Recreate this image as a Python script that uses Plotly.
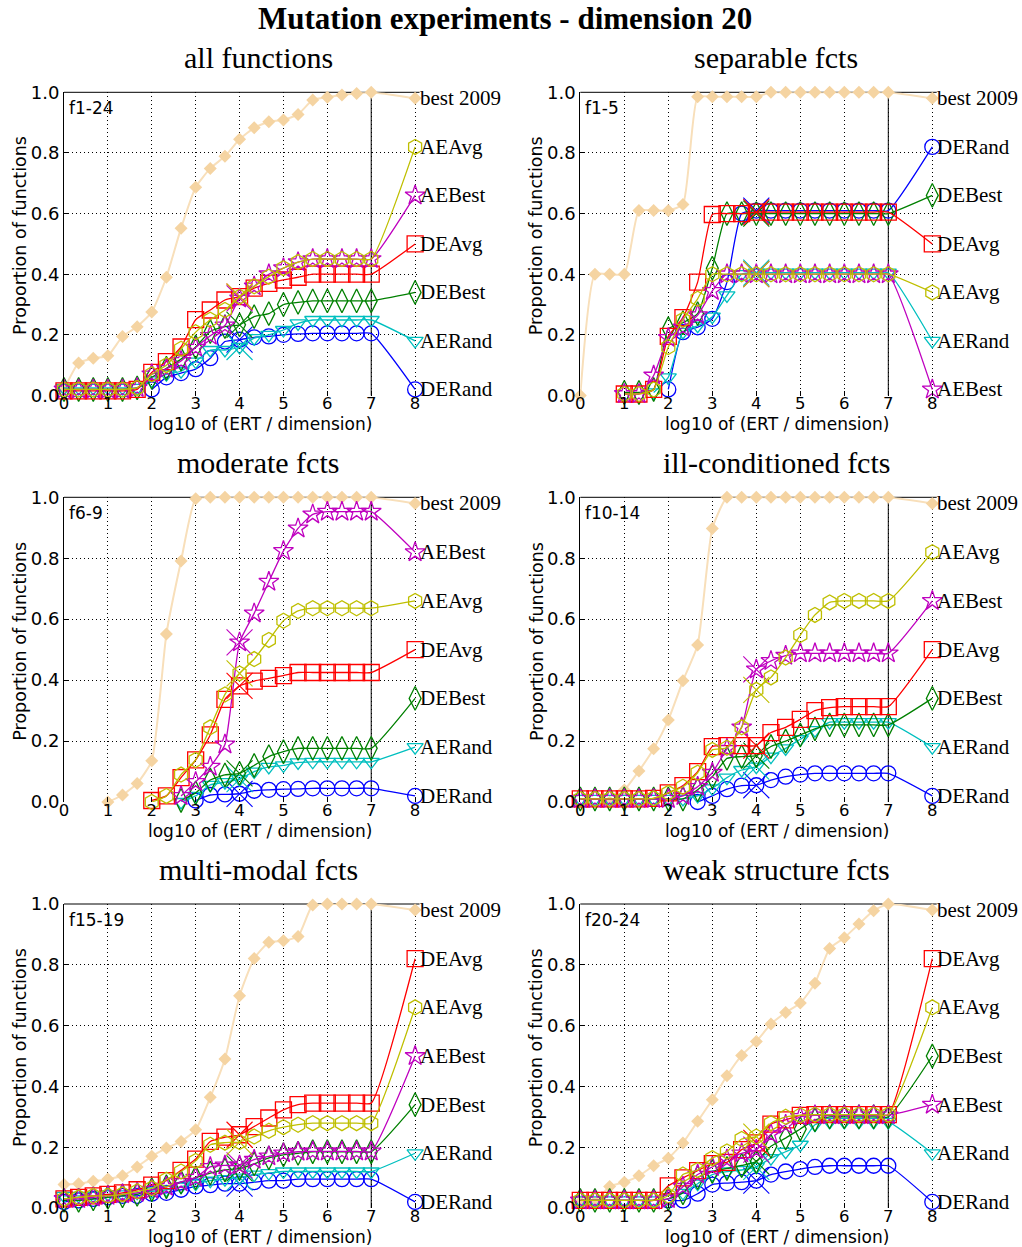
import plotly.graph_objects as go

# ECDF sample positions: log10(ERT / dimension), one marker every third of a decade
LOG_ERT = [0, 0.333, 0.667, 1, 1.333, 1.667, 2, 2.333, 2.667, 3, 3.333, 3.667,
           4, 4.333, 4.667, 5, 5.333, 5.667, 6, 6.333, 6.667, 7]
BUDGET_IDX = 12          # sample at log10(maxevals / dim) = 4, marked with a cross
LABEL_X = 8              # right-hand column of algorithm labels
LABEL_SLOTS = [0.98, 0.82, 0.66, 0.50, 0.34, 0.18, 0.02]

# ---------------- f1-24 : all functions ----------------
ALL_BEST = [0.02, 0.107, 0.123, 0.131, 0.195, 0.227, 0.275, 0.39, 0.552, 0.687, 0.749, 0.789,
            0.845, 0.883, 0.903, 0.909, 0.927, 0.975, 0.984, 0.991, 0.996, 1.0]
ALL_AEAVG = [0.02, 0.02, 0.02, 0.02, 0.02, 0.025, 0.07, 0.10, 0.154, 0.209, 0.25, 0.282,
             0.326, 0.36, 0.392, 0.42, 0.44, 0.45, 0.45, 0.45, 0.45, 0.45]
ALL_AEBEST = [0.02, 0.02, 0.02, 0.02, 0.02, 0.025, 0.07, 0.088, 0.114, 0.158, 0.197, 0.231,
              0.32, 0.36, 0.40, 0.42, 0.44, 0.45, 0.45, 0.45, 0.45, 0.45]
ALL_DEAVG = [0.015, 0.015, 0.015, 0.015, 0.015, 0.02, 0.076, 0.112, 0.16, 0.25, 0.282, 0.315,
             0.326, 0.354, 0.37, 0.381, 0.39, 0.40, 0.40, 0.40, 0.40, 0.40]
ALL_DEBEST = [0.02, 0.02, 0.02, 0.02, 0.02, 0.025, 0.06, 0.09, 0.12, 0.16, 0.211, 0.227,
              0.233, 0.26, 0.27, 0.30, 0.307, 0.312, 0.312, 0.312, 0.312, 0.312]
ALL_AERAND = [0.025, 0.025, 0.025, 0.025, 0.025, 0.025, 0.05, 0.07, 0.08, 0.112, 0.15, 0.15,
              0.16, 0.189, 0.20, 0.216, 0.238, 0.249, 0.249, 0.249, 0.249, 0.249]
ALL_DERAND = [None, None, None, None, None, None, 0.02, 0.06, 0.074, 0.087, 0.123, 0.178,
              0.184, 0.192, 0.195, 0.20, 0.203, 0.205, 0.205, 0.205, 0.205, 0.205]
ALL_ORDER = ["AEAvg", "AEBest", "DEAvg", "DEBest", "AERand", "DERand"]

# ---------------- f1-5 : separable ----------------
SEP_BEST = [0.0, 0.40, 0.40, 0.40, 0.61, 0.61, 0.61, 0.63, 0.985, 0.985, 0.985, 0.985,
            0.985, 1.0, 1.0, 1.0, 1.0, 1.0, 1.0, 1.0, 1.0, 1.0]
SEP_AEAVG = [None, None, None, 0.005, 0.005, 0.02, 0.16, 0.25, 0.319, 0.40, 0.40, 0.40,
             0.40, 0.40, 0.40, 0.40, 0.40, 0.40, 0.40, 0.40, 0.40, 0.40]
SEP_AEBEST = [None, None, None, 0.005, 0.005, 0.066, 0.19, 0.225, 0.265, 0.345, 0.40, 0.40,
              0.40, 0.40, 0.40, 0.40, 0.40, 0.40, 0.40, 0.40, 0.40, 0.40]
SEP_DEAVG = [None, None, None, 0.005, 0.005, 0.02, 0.195, 0.257, 0.374, 0.597, 0.60, 0.60,
             0.605, 0.605, 0.605, 0.605, 0.605, 0.605, 0.605, 0.605, 0.605, 0.605]
SEP_DEBEST = [None, None, None, 0.01, 0.01, 0.02, 0.22, 0.24, 0.27, 0.42, 0.60, 0.60,
              0.60, 0.60, 0.60, 0.60, 0.60, 0.60, 0.60, 0.60, 0.60, 0.60]
SEP_AERAND = [None, None, None, None, None, 0.01, 0.06, 0.21, 0.23, 0.26, 0.33, 0.40,
              0.405, 0.405, 0.405, 0.405, 0.405, 0.405, 0.405, 0.405, 0.405, 0.405]
SEP_DERAND = [None, None, None, None, None, None, 0.02, 0.209, 0.225, 0.253, 0.374, 0.60,
              0.61, 0.61, 0.61, 0.61, 0.61, 0.61, 0.61, 0.61, 0.61, 0.61]
SEP_ORDER = ["DERand", "DEBest", "DEAvg", "AEAvg", "AERand", "AEBest"]

# ---------------- f6-9 : moderate ----------------
MOD_BEST = [None, None, None, 0.0, 0.023, 0.061, 0.135, 0.551, 0.791, 0.995, 1.0, 1.0,
            1.0, 1.0, 1.0, 1.0, 1.0, 1.0, 1.0, 1.0, 1.0, 1.0]
MOD_AEAVG = [None, None, None, None, None, None, 0.0, 0.02, 0.09, 0.138, 0.245, 0.353,
             0.422, 0.469, 0.532, 0.595, 0.627, 0.636, 0.636, 0.636, 0.636, 0.636]
MOD_AEBEST = [None, None, None, None, None, None, None, None, 0.02, 0.066, 0.116, 0.189,
              0.524, 0.619, 0.723, 0.824, 0.898, 0.944, 0.953, 0.953, 0.953, 0.953]
MOD_DEAVG = [None, None, None, None, None, None, 0.005, 0.02, 0.08, 0.138, 0.22, 0.337,
             0.381, 0.397, 0.406, 0.415, 0.425, 0.425, 0.425, 0.425, 0.425, 0.425]
MOD_DEBEST = [None, None, None, None, None, None, None, None, 0.005, 0.03, 0.072, 0.089,
              0.094, 0.12, 0.149, 0.165, 0.176, 0.176, 0.176, 0.176, 0.176, 0.176]
MOD_AERAND = [None, None, None, None, None, None, None, None, 0.0, 0.02, 0.056, 0.065,
              0.075, 0.10, 0.115, 0.12, 0.13, 0.132, 0.132, 0.132, 0.132, 0.132]
MOD_DERAND = [None, None, None, None, None, None, None, None, None, 0.005, 0.023, 0.025,
              0.027, 0.037, 0.04, 0.042, 0.043, 0.045, 0.045, 0.045, 0.045, 0.045]
MOD_ORDER = ["AEBest", "AEAvg", "DEAvg", "DEBest", "AERand", "DERand"]

# ---------------- f10-14 : ill-conditioned ----------------
ILL_BEST = [None, None, 0.0, 0.039, 0.102, 0.175, 0.269, 0.398, 0.515, 0.898, 1.0, 1.0,
            1.0, 1.0, 1.0, 1.0, 1.0, 1.0, 1.0, 1.0, 1.0, 1.0]
ILL_AEAVG = [0.01, 0.01, 0.01, 0.01, 0.01, 0.012, 0.03, 0.05, 0.096, 0.171, 0.178, 0.245,
             0.368, 0.409, 0.474, 0.548, 0.614, 0.655, 0.66, 0.66, 0.66, 0.66]
ILL_AEBEST = [0.01, 0.01, 0.01, 0.01, 0.01, 0.01, 0.01, 0.02, 0.05, 0.096, 0.175, 0.245,
              0.435, 0.463, 0.48, 0.488, 0.488, 0.488, 0.488, 0.488, 0.488, 0.488]
ILL_DEAVG = [0.01, 0.01, 0.01, 0.01, 0.01, 0.012, 0.03, 0.054, 0.10, 0.182, 0.185, 0.185,
             0.185, 0.228, 0.245, 0.271, 0.30, 0.31, 0.313, 0.313, 0.313, 0.313]
ILL_DEBEST = [0.01, 0.01, 0.01, 0.01, 0.01, 0.01, 0.01, 0.01, 0.04, 0.083, 0.143, 0.149,
              0.152, 0.182, 0.20, 0.22, 0.24, 0.253, 0.253, 0.253, 0.253, 0.253]
ILL_AERAND = [0.01, 0.01, 0.01, 0.01, 0.01, 0.01, 0.01, 0.01, 0.02, 0.045, 0.08, 0.105,
              0.116, 0.149, 0.176, 0.206, 0.236, 0.262, 0.262, 0.262, 0.262, 0.262]
ILL_DERAND = [None, None, None, None, None, None, None, None, 0.0, 0.02, 0.042, 0.054,
              0.055, 0.072, 0.083, 0.09, 0.094, 0.094, 0.094, 0.094, 0.094, 0.094]
ILL_ORDER = ["AEAvg", "AEBest", "DEAvg", "DEBest", "AERand", "DERand"]

# ---------------- f15-19 : multi-modal ----------------
MUL_BEST = [0.077, 0.08, 0.088, 0.095, 0.106, 0.135, 0.17, 0.197, 0.219, 0.257, 0.364, 0.49,
            0.698, 0.821, 0.874, 0.879, 0.893, 0.997, 1.0, 1.0, 1.0, 1.0]
MUL_AEAVG = [0.03, 0.035, 0.04, 0.04, 0.045, 0.055, 0.065, 0.093, 0.12, 0.155, 0.208, 0.215,
             0.217, 0.235, 0.254, 0.266, 0.274, 0.279, 0.279, 0.279, 0.279, 0.279]
MUL_AEBEST = [0.03, 0.03, 0.035, 0.04, 0.045, 0.05, 0.06, 0.07, 0.085, 0.10, 0.135, 0.14,
              0.14, 0.159, 0.17, 0.18, 0.185, 0.186, 0.186, 0.186, 0.186, 0.186]
MUL_DEAVG = [0.03, 0.035, 0.04, 0.045, 0.05, 0.06, 0.075, 0.09, 0.124, 0.161, 0.219, 0.233,
             0.241, 0.268, 0.296, 0.323, 0.34, 0.345, 0.345, 0.345, 0.345, 0.345]
MUL_DEBEST = [0.025, 0.025, 0.03, 0.035, 0.04, 0.045, 0.06, 0.07, 0.085, 0.10, 0.115, 0.125,
              0.13, 0.145, 0.165, 0.175, 0.18, 0.185, 0.185, 0.185, 0.185, 0.185]
MUL_AERAND = [0.04, 0.04, 0.04, 0.045, 0.045, 0.05, 0.055, 0.06, 0.07, 0.08, 0.09, 0.095,
              0.10, 0.11, 0.115, 0.12, 0.12, 0.12, 0.12, 0.12, 0.12, 0.12]
MUL_DERAND = [0.02, 0.025, 0.03, 0.035, 0.04, 0.04, 0.047, 0.05, 0.06, 0.071, 0.075, 0.08,
              0.08, 0.085, 0.09, 0.09, 0.095, 0.095, 0.095, 0.095, 0.095, 0.095]
MUL_ORDER = ["DEAvg", "AEAvg", "AEBest", "DEBest", "AERand", "DERand"]

# ---------------- f20-24 : weak structure ----------------
WEAK_BEST = [0.02, 0.02, 0.071, 0.085, 0.106, 0.139, 0.164, 0.214, 0.285, 0.356, 0.435, 0.502,
             0.548, 0.605, 0.643, 0.674, 0.739, 0.854, 0.889, 0.934, 0.978, 1.0]
WEAK_AEAVG = [0.025, 0.025, 0.025, 0.025, 0.025, 0.025, 0.04, 0.11, 0.125, 0.164, 0.186, 0.227,
              0.235, 0.279, 0.30, 0.305, 0.307, 0.307, 0.307, 0.307, 0.307, 0.307]
WEAK_AEBEST = [0.025, 0.025, 0.025, 0.025, 0.025, 0.025, 0.03, 0.07, 0.11, 0.135, 0.16, 0.18,
               0.192, 0.243, 0.274, 0.30, 0.305, 0.305, 0.305, 0.305, 0.305, 0.305]
WEAK_DEAVG = [0.025, 0.025, 0.025, 0.025, 0.025, 0.025, 0.073, 0.099, 0.123, 0.146, 0.15, 0.192,
              0.214, 0.276, 0.29, 0.305, 0.307, 0.307, 0.307, 0.307, 0.307, 0.307]
WEAK_DEBEST = [0.025, 0.025, 0.025, 0.025, 0.025, 0.025, 0.03, 0.05, 0.10, 0.12, 0.13, 0.14,
               0.153, 0.203, 0.23, 0.26, 0.29, 0.30, 0.30, 0.30, 0.30, 0.30]
WEAK_AERAND = [0.025, 0.025, 0.025, 0.025, 0.025, 0.025, 0.03, 0.05, 0.08, 0.11, 0.12, 0.125,
               0.135, 0.164, 0.185, 0.208, 0.274, 0.283, 0.283, 0.283, 0.283, 0.283]
WEAK_DERAND = [None, None, None, None, None, None, 0.025, 0.025, 0.047, 0.077, 0.082, 0.085,
               0.09, 0.11, 0.12, 0.128, 0.135, 0.139, 0.139, 0.139, 0.139, 0.139]
WEAK_ORDER = ["DEAvg", "AEAvg", "DEBest", "AEBest", "AERand", "DERand"]

PANELS = [
    dict(title="all functions", tag="f1-24", best=ALL_BEST, order=ALL_ORDER,
         algs={"AEAvg": ALL_AEAVG, "AEBest": ALL_AEBEST, "DEAvg": ALL_DEAVG,
               "DEBest": ALL_DEBEST, "AERand": ALL_AERAND, "DERand": ALL_DERAND}),
    dict(title="separable fcts", tag="f1-5", best=SEP_BEST, order=SEP_ORDER,
         algs={"AEAvg": SEP_AEAVG, "AEBest": SEP_AEBEST, "DEAvg": SEP_DEAVG,
               "DEBest": SEP_DEBEST, "AERand": SEP_AERAND, "DERand": SEP_DERAND}),
    dict(title="moderate fcts", tag="f6-9", best=MOD_BEST, order=MOD_ORDER,
         algs={"AEAvg": MOD_AEAVG, "AEBest": MOD_AEBEST, "DEAvg": MOD_DEAVG,
               "DEBest": MOD_DEBEST, "AERand": MOD_AERAND, "DERand": MOD_DERAND}),
    dict(title="ill-conditioned fcts", tag="f10-14", best=ILL_BEST, order=ILL_ORDER,
         algs={"AEAvg": ILL_AEAVG, "AEBest": ILL_AEBEST, "DEAvg": ILL_DEAVG,
               "DEBest": ILL_DEBEST, "AERand": ILL_AERAND, "DERand": ILL_DERAND}),
    dict(title="multi-modal fcts", tag="f15-19", best=MUL_BEST, order=MUL_ORDER,
         algs={"AEAvg": MUL_AEAVG, "AEBest": MUL_AEBEST, "DEAvg": MUL_DEAVG,
               "DEBest": MUL_DEBEST, "AERand": MUL_AERAND, "DERand": MUL_DERAND}),
    dict(title="weak structure fcts", tag="f20-24", best=WEAK_BEST, order=WEAK_ORDER,
         algs={"AEAvg": WEAK_AEAVG, "AEBest": WEAK_AEBEST, "DEAvg": WEAK_DEAVG,
               "DEBest": WEAK_DEBEST, "AERand": WEAK_AERAND, "DERand": WEAK_DERAND}),
]

# colour, marker symbol, marker size
STYLE = {
    "AEAvg": ("#BFBF00", "hexagon-open", 15),
    "AEBest": ("#BF00BF", "star-open", 15),
    "DEAvg": ("#FF0000", "square-open", 16),
    "DEBest": ("#008000", "diamond-tall-open", 17),
    "AERand": ("#00BFBF", "triangle-down-open", 14),
    "DERand": ("#0000FF", "circle-open", 15),
}
DRAW_ORDER = ["DERand", "AERand", "DEBest", "DEAvg", "AEBest", "AEAvg"]
BEST_LINE = "#F8DFBA"
BEST_MARK = "#F5D4A2"

W, H = 1022, 1247
SERIF = "Liberation Serif, Times New Roman, serif"
SANS = "DejaVu Sans, sans-serif"

# pixel frames of the six axes: (left, right, top, bottom)
COLS = [(64, 419.5), (580.3, 936.7)]
ROWS = [(92.3, 395.5), (497.3, 802.0), (904.0, 1208.0)]


def px(x):
    return x / W


def py(y):
    return 1 - y / H


fig = go.Figure()
annotations = []
shapes = []

for i, panel in enumerate(PANELS):
    r, c = divmod(i, 2)
    n = i + 1
    suffix = "" if n == 1 else str(n)
    xa, ya = f"x{suffix}", f"y{suffix}"
    left, right = COLS[c]
    top, bottom = ROWS[r]

    # best 2009 reference curve
    bx = [x for x, v in zip(LOG_ERT, panel["best"]) if v is not None] + [LABEL_X]
    by = [v for v in panel["best"] if v is not None] + [LABEL_SLOTS[0]]
    fig.add_trace(go.Scatter(
        x=bx, y=by, xaxis=xa, yaxis=ya, mode="lines+markers",
        line=dict(color=BEST_LINE, width=2, shape="spline", smoothing=0.5),
        marker=dict(symbol="diamond", size=10, color=BEST_MARK),
        cliponaxis=False, hoverinfo="skip", showlegend=False))
    annotations.append(dict(
        x=LABEL_X, y=LABEL_SLOTS[0], xref=xa, yref=ya, text="best 2009",
        showarrow=False, xanchor="left", yanchor="middle", xshift=3,
        font=dict(family=SERIF, size=21, color="black")))

    slot_of = {name: LABEL_SLOTS[k + 1] for k, name in enumerate(panel["order"])}

    for name in DRAW_ORDER:
        color, symbol, size = STYLE[name]
        vals = panel["algs"][name]
        xs = [x for x, v in zip(LOG_ERT, vals) if v is not None] + [LABEL_X]
        ys = [v for v in vals if v is not None] + [slot_of[name]]
        fig.add_trace(go.Scatter(
            x=xs, y=ys, xaxis=xa, yaxis=ya, mode="lines+markers",
            line=dict(color=color, width=1.3, shape="spline", smoothing=0.5),
            marker=dict(symbol=symbol, size=size, color=color,
                        line=dict(color=color, width=1.3)),
            cliponaxis=False, hoverinfo="skip", showlegend=False))
        # budget cross
        fig.add_trace(go.Scatter(
            x=[LOG_ERT[BUDGET_IDX]], y=[vals[BUDGET_IDX]], xaxis=xa, yaxis=ya,
            mode="markers",
            marker=dict(symbol="x-thin-open", size=26, color=color,
                        line=dict(color=color, width=1.1)),
            cliponaxis=False, hoverinfo="skip", showlegend=False))
        annotations.append(dict(
            x=LABEL_X, y=slot_of[name], xref=xa, yref=ya, text=name,
            showarrow=False, xanchor="left", yanchor="middle", xshift=3,
            font=dict(family=SERIF, size=21, color="black")))

    axis_common = dict(
        showgrid=True, gridcolor="black", griddash="1px,3px", gridwidth=1,
        zeroline=False, ticks="inside", ticklen=5, tickcolor="black",
        automargin=False)
    fig.update_layout(**{
        f"xaxis{suffix}": dict(domain=[px(left), px(right)], anchor=ya, range=[0, 8.1],
                               tickvals=[0, 1, 2, 3, 4, 5, 6, 7, 8], showline=False,
                               ticklabelstandoff=-4,
                               tickfont=dict(family=SANS, size=16.5, color="black"),
                               **axis_common),
        f"yaxis{suffix}": dict(domain=[py(bottom), py(top)], anchor=xa, range=[0, 1],
                               tickvals=[0, 0.2, 0.4, 0.6, 0.8, 1.0],
                               ticktext=["0.0", "0.2", "0.4", "0.6", "0.8", "1.0"],
                               showline=True, linecolor="black", linewidth=1,
                               tickfont=dict(family=SANS, size=18, color="black"),
                               **axis_common),
    })

    # top frame and the x = 7 marker line
    shapes.append(dict(type="line", xref="paper", yref="paper",
                       x0=px(left), x1=px(right), y0=py(top), y1=py(top),
                       line=dict(color="black", width=1), layer="below"))
    shapes.append(dict(type="line", xref=xa, yref="paper",
                       x0=7, x1=7, y0=py(bottom), y1=py(top),
                       line=dict(color="black", width=1), layer="below"))

    # panel tag
    annotations.append(dict(
        x=px(left + 3), y=py(top + 4), xref="paper", yref="paper", text=panel["tag"],
        showarrow=False, xanchor="left", yanchor="top",
        font=dict(family=SANS, size=17, color="black")))
    # panel title
    title_cx = 258 if c == 0 else 776
    annotations.append(dict(
        x=px(title_cx), y=py(top - 35), xref="paper", yref="paper", text=panel["title"],
        showarrow=False, xanchor="center", yanchor="middle",
        font=dict(family=SERIF, size=30, color="black")))
    # axis titles
    xt_cx = 260 if c == 0 else 777
    annotations.append(dict(
        x=px(xt_cx), y=py(bottom + 28.5), xref="paper", yref="paper",
        text="log10 of (ERT / dimension)", showarrow=False, borderpad=0,
        xanchor="center", yanchor="middle",
        font=dict(family=SANS, size=17, color="black")))
    annotations.append(dict(
        x=px(left - 44), y=py((top + bottom) / 2 - 8), xref="paper", yref="paper",
        text="Proportion of functions", showarrow=False, textangle=-90,
        xanchor="center", yanchor="middle",
        font=dict(family=SANS, size=17.5, color="black")))

annotations.append(dict(
    x=px(505), y=py(19), xref="paper", yref="paper",
    text="<b>Mutation experiments - dimension 20</b>", showarrow=False,
    xanchor="center", yanchor="middle",
    font=dict(family=SERIF, size=31, color="black")))

fig.update_layout(
    width=W, height=H, margin=dict(l=0, r=0, t=0, b=0, autoexpand=False),
    paper_bgcolor="white", plot_bgcolor="white",
    showlegend=False, annotations=annotations, shapes=shapes)

fig.write_html("out.html")
